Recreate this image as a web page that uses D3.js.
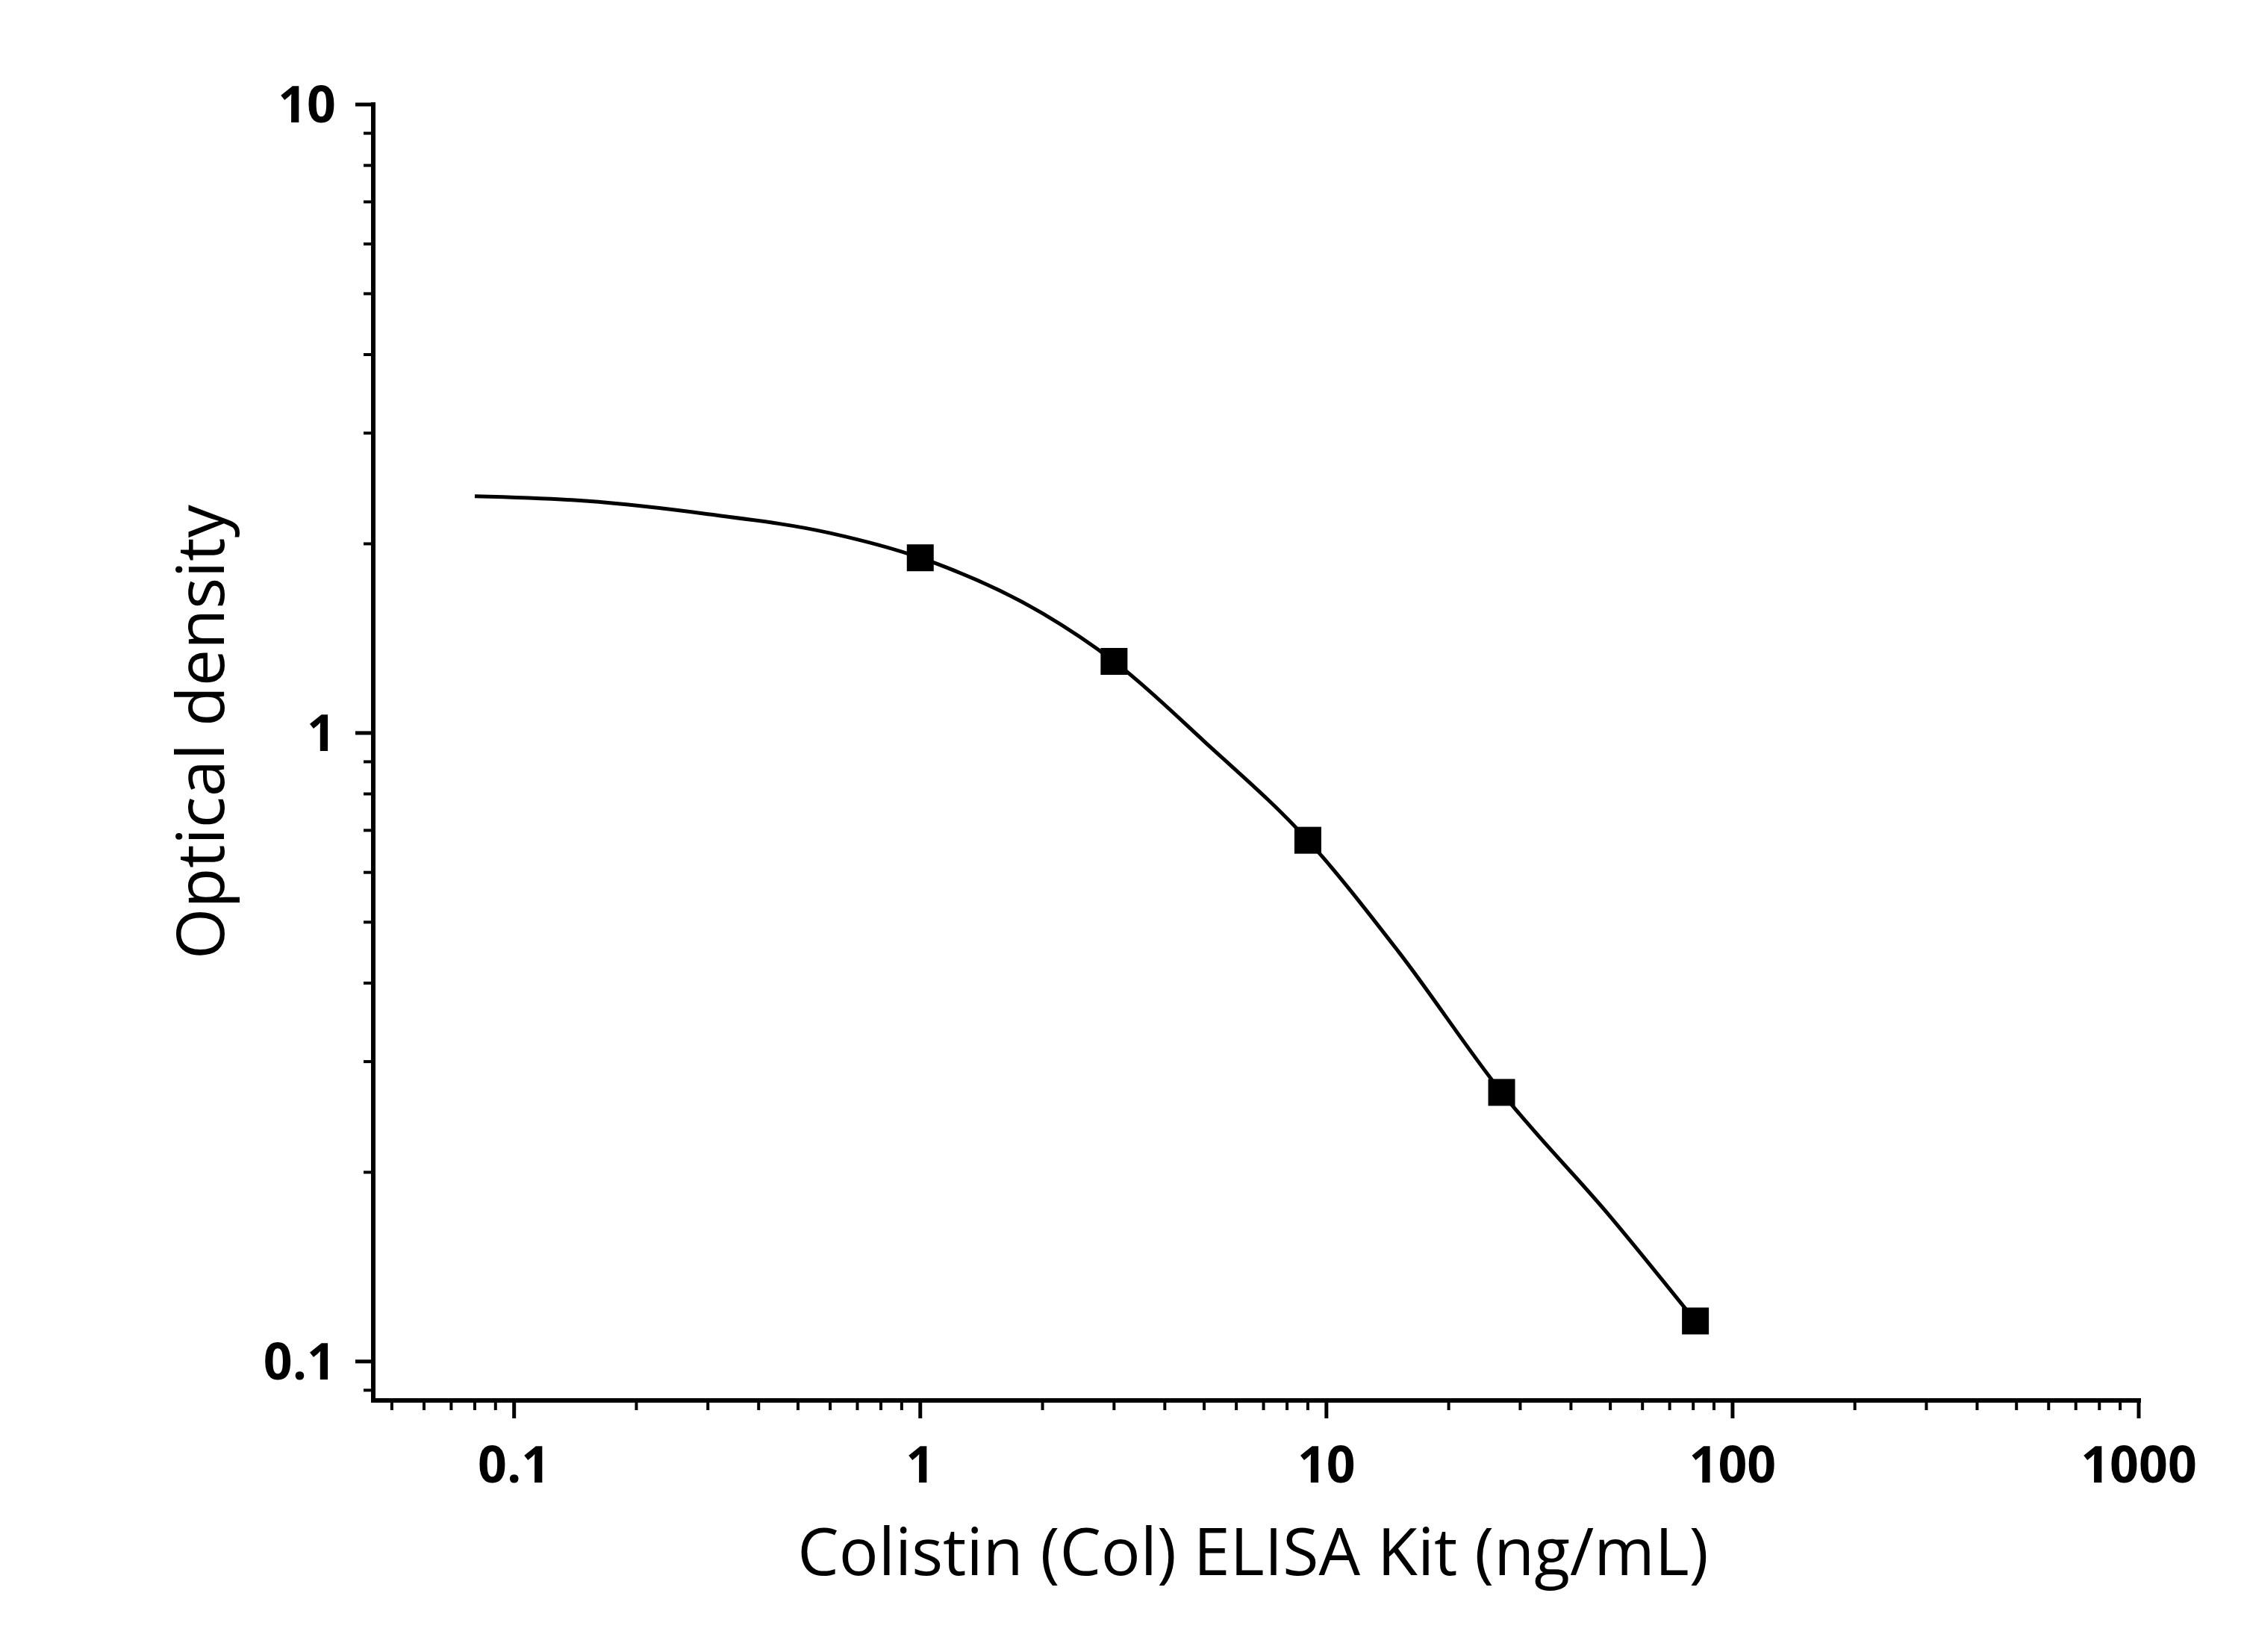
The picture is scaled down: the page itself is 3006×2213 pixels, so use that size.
<!DOCTYPE html>
<html><head><meta charset="utf-8">
<script src="https://cdn.jsdelivr.net/npm/d3@7"></script>
<style>body{margin:0;background:#fff}svg{display:block}</style>
</head><body>
<svg width="3006" height="2213"></svg>
<script>
// standard points
var conc = [1, 3, 9, 27, 81];
var od = [1.90, 1.30, 0.675, 0.268, 0.116];
// fitted curve
var curveX = [0.08, 0.15, 0.3, 0.6, 1, 2, 3, 5, 9, 15, 27, 50, 81];
var curveY = [2.38, 2.34, 2.23, 2.08, 1.90, 1.55, 1.30, 0.97, 0.675, 0.45, 0.268, 0.17, 0.116];
var xTicks = [0.1, 1, 10, 100, 1000];
var yTicks = [0.1, 1, 10];

function draw() {
  var svg = d3.select("svg");
  var pLeft = 500, pRight = 2865, pTop = 140, pBottom = 1876;
  var x = d3.scaleLog().domain([0.045, 1000]).range([pLeft, pRight]);
  var y = d3.scaleLog().domain([0.0867, 10]).range([pBottom, pTop]);

  var minorX = [], minorY = [];
  [0.01, 0.1, 1, 10, 100].forEach(function(p){
    for (var k = 2; k <= 9; k++) {
      var v = p * k;
      if (v >= 0.045 && v <= 1000) minorX.push(v);
    }
  });
  [0.01, 0.1, 1].forEach(function(p){
    for (var k = 2; k <= 9; k++) {
      var v = p * k;
      if (v >= 0.0867 && v <= 10) minorY.push(v);
    }
  });

  var font = "'Open Sans', 'Noto Sans', sans-serif";
  var g = svg.append("g");

  // axis lines
  g.append("line").attr("x1", pLeft).attr("x2", pRight).attr("y1", pBottom).attr("y2", pBottom)
    .attr("stroke", "#000").attr("stroke-width", 6).attr("stroke-linecap", "square");
  g.append("line").attr("x1", pLeft).attr("x2", pLeft).attr("y1", pTop).attr("y2", pBottom)
    .attr("stroke", "#000").attr("stroke-width", 6).attr("stroke-linecap", "square");

  // x ticks
  g.selectAll(".xmaj").data(xTicks).enter().append("line")
    .attr("x1", d => x(d)).attr("x2", d => x(d)).attr("y1", pBottom).attr("y2", pBottom + 24)
    .attr("stroke", "#000").attr("stroke-width", 5);
  g.selectAll(".xmin").data(minorX).enter().append("line")
    .attr("x1", d => x(d)).attr("x2", d => x(d)).attr("y1", pBottom).attr("y2", pBottom + 13)
    .attr("stroke", "#000").attr("stroke-width", 4);
  g.selectAll(".xlab").data(xTicks).enter().append("text")
    .attr("x", d => x(d)).attr("y", pBottom + 110).attr("text-anchor", "middle")
    .attr("font-family", font).attr("font-weight", "bold").attr("font-size", 68)
    .text(d => d);

  // y ticks
  g.selectAll(".ymaj").data(yTicks).enter().append("line")
    .attr("x1", pLeft - 24).attr("x2", pLeft).attr("y1", d => y(d)).attr("y2", d => y(d))
    .attr("stroke", "#000").attr("stroke-width", 5);
  g.selectAll(".ymin").data(minorY).enter().append("line")
    .attr("x1", pLeft - 13).attr("x2", pLeft).attr("y1", d => y(d)).attr("y2", d => y(d))
    .attr("stroke", "#000").attr("stroke-width", 4);
  g.selectAll(".ylab").data(yTicks).enter().append("text")
    .attr("x", pLeft - 50).attr("y", d => y(d) + 24).attr("text-anchor", "end")
    .attr("font-family", font).attr("font-weight", "bold").attr("font-size", 68)
    .text(d => d);

  // titles
  g.append("text").attr("x", (pLeft + pRight) / 2 - 4).attr("y", 2110).attr("text-anchor", "middle")
    .attr("font-family", font).attr("font-size", 88).text("Colistin (Col) ELISA Kit (ng/mL)");
  g.append("text").attr("transform", "translate(300," + (y(0.95) - 20) + ") rotate(-90)")
    .attr("text-anchor", "middle").attr("font-family", font).attr("font-size", 88)
    .text("Optical density");

  // curve
  var line = d3.line().x(d => x(d[0])).y(d => y(d[1])).curve(d3.curveMonotoneX);
  g.append("path").datum(d3.zip(curveX, curveY)).attr("d", line)
    .attr("fill", "none").attr("stroke", "#000").attr("stroke-width", 5);

  // points
  var s = 36;
  g.selectAll(".pt").data(d3.zip(conc, od)).enter().append("rect")
    .attr("x", d => x(d[0]) - s / 2).attr("y", d => y(d[1]) - s / 2)
    .attr("width", s).attr("height", s).attr("fill", "#000");
}
draw();
</script>
</body></html>
